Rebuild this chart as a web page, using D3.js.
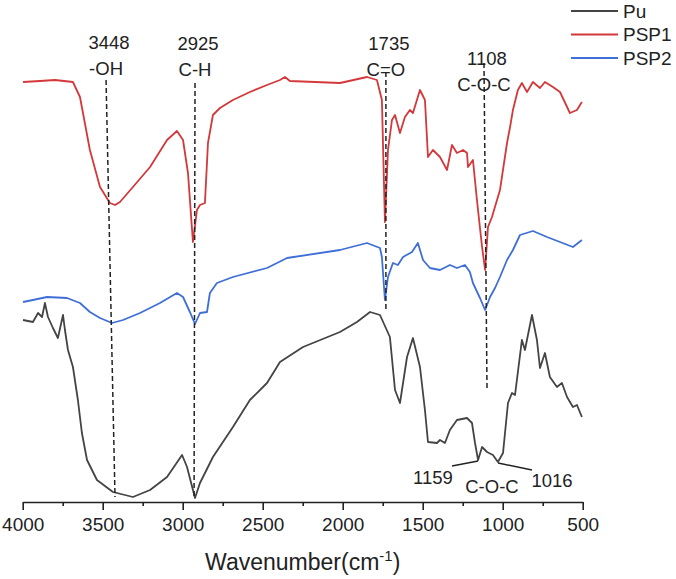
<!DOCTYPE html>
<html lang="en">
<head>
    <meta charset="UTF-8">
    <title>FTIR spectra</title>
    <script src="https://d3js.org/d3.v7.min.js"></script>
    <style>
        body { margin: 0; background: #fff; }
        svg text { font-family: "Liberation Sans", Arial, sans-serif; fill: #222; }
    </style>
</head>
<body>
    <svg id="chart"></svg>
    <script>
        const width = 676;
        const height = 579;

        // wavenumber (cm-1) and transmittance (a.u., stacked)
        const puWave = [3998, 3936, 3904, 3879, 3861, 3842, 3811, 3780, 3748, 3736, 3717, 3686, 3655, 3630, 3598, 3536, 3436, 3311, 3204, 3098, 3004, 2973, 2923, 2892, 2811, 2686, 2580, 2473, 2392, 2248, 2017, 1911, 1829, 1767, 1705, 1673, 1642, 1598, 1561, 1517, 1486, 1467, 1411, 1392, 1361, 1330, 1286, 1223, 1192, 1173, 1154, 1129, 1098, 1061, 1030, 998, 967, 942, 923, 880, 861, 817, 786, 767, 736, 705, 661, 630, 598, 561, 536, 505];
        const puVal = [182, 180, 189, 185, 199, 185, 174, 164, 187, 172, 152, 135, 102, 69, 42, 22, 10, 5, 12, 25, 47, 35, 4, 19, 45, 75, 102, 119, 140, 155, 170, 180, 190, 187, 165, 112, 99, 145, 164, 135, 92, 60, 59, 62, 59, 72, 82, 84, 79, 59, 42, 55, 50, 47, 40, 49, 99, 109, 107, 162, 152, 187, 162, 134, 149, 125, 115, 119, 105, 95, 97, 85];

        const psp1Wave = [3998, 3892, 3798, 3686, 3642, 3580, 3517, 3455, 3423, 3392, 3311, 3204, 3098, 3036, 2998, 2967, 2936, 2911, 2892, 2861, 2842, 2811, 2767, 2686, 2580, 2473, 2392, 2361, 2330, 2017, 1848, 1786, 1755, 1736, 1717, 1692, 1673, 1642, 1611, 1580, 1561, 1517, 1486, 1467, 1436, 1392, 1348, 1317, 1286, 1248, 1223, 1217, 1186, 1161, 1129, 1110, 1092, 1067, 1017, 973, 954, 936, 905, 880, 848, 811, 767, 736, 686, 642, 580, 536, 505];
        const psp1Val = [420, 421, 422, 420, 405, 352, 315, 299, 297, 300, 315, 335, 362, 371, 362, 329, 260, 292, 297, 299, 359, 387, 394, 402, 410, 417, 422, 425, 421, 419, 425, 422, 402, 280, 352, 382, 387, 369, 385, 392, 389, 412, 402, 345, 352, 345, 332, 357, 349, 352, 349, 335, 342, 302, 255, 232, 275, 285, 312, 359, 375, 392, 412, 419, 410, 420, 414, 420, 415, 410, 389, 392, 400];

        const psp2Wave = [3998, 3936, 3848, 3723, 3642, 3580, 3517, 3442, 3373, 3267, 3142, 3036, 2998, 2955, 2923, 2892, 2848, 2830, 2786, 2686, 2473, 2373, 2348, 2017, 1848, 1767, 1755, 1736, 1717, 1686, 1655, 1623, 1567, 1530, 1498, 1455, 1392, 1330, 1286, 1236, 1205, 1186, 1142, 1110, 1079, 1048, 1017, 973, 936, 892, 811, 723, 642, 561, 505];
        const psp2Val = [200, 202, 205, 204, 199, 190, 184, 179, 182, 189, 199, 209, 205, 190, 178, 189, 190, 209, 219, 225, 234, 242, 244, 252, 259, 254, 245, 202, 225, 239, 237, 245, 250, 259, 242, 234, 232, 237, 234, 237, 230, 219, 204, 192, 205, 214, 225, 242, 252, 267, 271, 265, 260, 255, 262];

        const seriesNames = ["Pu", "PSP1", "PSP2"];
        const seriesColors = ["#444444", "#d3383a", "#3f6fd6"];

        const xTicks = [4000, 3500, 3000, 2500, 2000, 1500, 1000, 500];
        const xMinorTicks = [3750, 3250, 2750, 2250, 1750, 1250, 750];

        // dashed marker lines: wavenumber at top/bottom, value at top/bottom
        const markers = [
            {top: 3479, bottom: 3423, v1: 422, v2: 5, num: "3448", group: "-OH"},
            {top: 2923, bottom: 2929, v1: 419, v2: 5, num: "2925", group: "C-H"},
            {top: 1730, bottom: 1730, v1: 430, v2: 190, num: "1735", group: "C=O"},
            {top: 1117, bottom: 1098, v1: 439, v2: 112, num: "1108", group: "C-O-C"}
        ];

        const svg = d3.select("#chart")
            .attr("width", width)
            .attr("height", height);

        const x = d3.scaleLinear().domain([4000, 500]).range([22.7, 582.7]);
        const y = d3.scaleLinear().domain([0, 500]).range([502, 2]);

        const series = [
            {name: seriesNames[0], color: seriesColors[0], pts: puWave.map((w, i) => [w, puVal[i]])},
            {name: seriesNames[1], color: seriesColors[1], pts: psp1Wave.map((w, i) => [w, psp1Val[i]])},
            {name: seriesNames[2], color: seriesColors[2], pts: psp2Wave.map((w, i) => [w, psp2Val[i]])}
        ];

        const line = d3.line()
            .x(d => x(d[0]))
            .y(d => y(d[1]));

        svg.append("g")
            .selectAll("path")
            .data(series)
            .enter().append("path")
            .attr("d", d => line(d.pts))
            .attr("fill", "none")
            .attr("stroke", d => d.color)
            .attr("stroke-width", 1.8)
            .attr("stroke-linejoin", "round");

        // axis
        const axis = svg.append("g")
            .attr("transform", `translate(0,${y(0)})`)
            .call(d3.axisBottom(x).tickValues(xTicks).tickSize(8).tickSizeOuter(0).tickPadding(8).tickFormat(d3.format("d")));
        axis.select(".domain").attr("stroke", "#222").attr("stroke-width", 1.6);
        axis.selectAll(".tick line").attr("stroke", "#222").attr("stroke-width", 1.6);
        axis.selectAll(".tick text").style("font-size", "19px").attr("fill", "#222");

        const minor = svg.append("g")
            .attr("transform", `translate(0,${y(0)})`)
            .call(d3.axisBottom(x).tickValues(xMinorTicks).tickSize(4).tickFormat(""));
        minor.select(".domain").remove();
        minor.selectAll(".tick line").attr("stroke", "#222").attr("stroke-width", 1.6);

        const title = svg.append("text")
            .attr("x", (x(4000) + x(500)) / 2)
            .attr("y", 570)
            .attr("text-anchor", "middle")
            .style("font-size", "23px");
        title.append("tspan").text("Wavenumber(cm");
        title.append("tspan").text("-1").style("font-size", "15px").attr("dy", -9);
        title.append("tspan").text(")").attr("dy", 9);

        // dashed markers and labels
        svg.append("g")
            .selectAll("line")
            .data(markers)
            .enter().append("line")
            .attr("x1", d => x(d.top))
            .attr("y1", d => y(d.v1))
            .attr("x2", d => x(d.bottom))
            .attr("y2", d => y(d.v2))
            .attr("stroke", "#222")
            .attr("stroke-width", 1.5)
            .attr("stroke-dasharray", "5,3");

        const labelTop = [453, 452, 452, 437];
        const labelGap = 26;
        markers.forEach((m, i) => {
            svg.append("text")
                .attr("x", x(m.top) + 3)
                .attr("y", y(labelTop[i]))
                .attr("text-anchor", "middle")
                .style("font-size", "18.5px")
                .text(m.num);
            svg.append("text")
                .attr("x", x(m.top))
                .attr("y", y(labelTop[i]) + labelGap)
                .attr("text-anchor", "middle")
                .style("font-size", "18.5px")
                .text(m.group);
        });

        // lower C-O-C annotation for Pu
        const leaders = [
            [[1317, 36], [1154, 41]],
            [[1029, 39], [817, 32]]
        ];
        svg.append("g")
            .selectAll("path")
            .data(leaders)
            .enter().append("path")
            .attr("d", d => line(d))
            .attr("stroke", "#222")
            .attr("stroke-width", 1.5)
            .attr("fill", "none");

        const lowLabels = [
            {w: 1436, v: 18, t: "1159"},
            {w: 1067, v: 9, t: "C-O-C"},
            {w: 692, v: 15, t: "1016"}
        ];
        svg.append("g")
            .selectAll("text")
            .data(lowLabels)
            .enter().append("text")
            .attr("x", d => x(d.w))
            .attr("y", d => y(d.v))
            .attr("text-anchor", "middle")
            .style("font-size", "18.5px")
            .text(d => d.t);

        // legend
        const legend = svg.append("g")
            .selectAll("g")
            .data(series)
            .enter().append("g")
            .attr("transform", (d, i) => `translate(571,${11 + i * 23.5})`);
        legend.append("line")
            .attr("x1", 0).attr("x2", 47)
            .attr("stroke", d => d.color)
            .attr("stroke-width", 2);
        legend.append("text")
            .attr("x", 52)
            .attr("dy", "0.36em")
            .style("font-size", "19px")
            .text(d => d.name);
    </script>
</body>
</html>
